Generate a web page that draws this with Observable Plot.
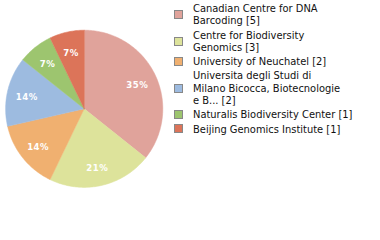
<!DOCTYPE html>
<html>
<head>
<meta charset="utf-8">
<script src="https://cdn.jsdelivr.net/npm/d3@7"></script>
<script src="https://cdn.jsdelivr.net/npm/@observablehq/plot@0.6"></script>
<style>
  html, body { margin: 0; padding: 0; background: #fff; }
  #wrap { position: relative; width: 380px; height: 240px; overflow: hidden; }
  #chart { position: absolute; left: 0; top: 0; }
  #chart text { letter-spacing: 0.5px; }
  #legend { position: absolute; left: 174px; top: 3px; font-family: "DejaVu Sans Condensed", "DejaVu Sans", sans-serif; font-stretch: condensed; font-size: 11px; color: #111; }
  .item { display: flex; align-items: center; margin-bottom: 1.8px; }
  .sw { width: 7px; height: 7px; border: 1px solid #888; margin-right: 10px; flex: none; position: relative; top: -1px; }
  .lab { white-space: pre; line-height: 12.4px; }
</style>
</head>
<body>
<div id="wrap"><div id="chart"></div><div id="legend"></div></div>
<script>
const names = [
  "Canadian Centre for DNA\nBarcoding",
  "Centre for Biodiversity\nGenomics",
  "University of Neuchatel",
  "Universita degli Studi di\nMilano Bicocca, Biotecnologie\ne B...",
  "Naturalis Biodiversity Center",
  "Beijing Genomics Institute"
];
const counts = [5, 3, 2, 2, 1, 1];
const colors = ["#e0a39b", "#dde39b", "#f0b070", "#9dbbe0", "#9dc56f", "#dc7459"];

const data = names.map((n, i) => ({name: n, value: counts[i]}));
const total = d3.sum(counts);
const arcs = d3.pie().sort(null).value(d => d.value)(data);

const pts = arcs.flatMap(a => {
  const steps = Math.max(2, Math.ceil((a.endAngle - a.startAngle) / (Math.PI / 180)));
  const p = [{name: a.data.name, x: 0, y: 0}];
  for (let k = 0; k <= steps; k++) {
    const t = a.startAngle + (a.endAngle - a.startAngle) * k / steps;
    p.push({name: a.data.name, x: Math.sin(t), y: Math.cos(t)});
  }
  return p;
});

const mid = a => (a.startAngle + a.endAngle) / 2;
const lr = 0.75;

const plot = Plot.plot({
  width: 170,
  height: 240,
  margin: 0,
  x: {domain: [-1, 1], range: [5.1, 162.3], axis: null},
  y: {domain: [-1, 1], range: [186.9, 29.7], axis: null},
  color: {domain: names, range: colors},
  marks: [
    Plot.line(pts, {x: "x", y: "y", z: "name", fill: "name", stroke: "name", strokeWidth: 0.5, curve: "linear-closed"}),
    Plot.text(arcs, {
      x: a => lr * Math.sin(mid(a)),
      y: a => lr * Math.cos(mid(a)),
      text: a => Math.floor(a.data.value / total * 100) + "%",
      fill: "white",
      fontSize: 9.5,
      fontWeight: "bold",
      fontFamily: "'DejaVu Sans Condensed', 'DejaVu Sans', sans-serif",
      textAnchor: "middle",
      dy: 1.5
    })
  ]
});
document.getElementById("chart").appendChild(plot);

const legend = document.getElementById("legend");
names.forEach((n, i) => {
  const item = document.createElement("div");
  item.className = "item";
  const sw = document.createElement("div");
  sw.className = "sw";
  sw.style.background = colors[i];
  const lab = document.createElement("div");
  lab.className = "lab";
  lab.textContent = `${n} [${counts[i]}]`;
  item.appendChild(sw);
  item.appendChild(lab);
  legend.appendChild(item);
});
</script>
</body>
</html>
